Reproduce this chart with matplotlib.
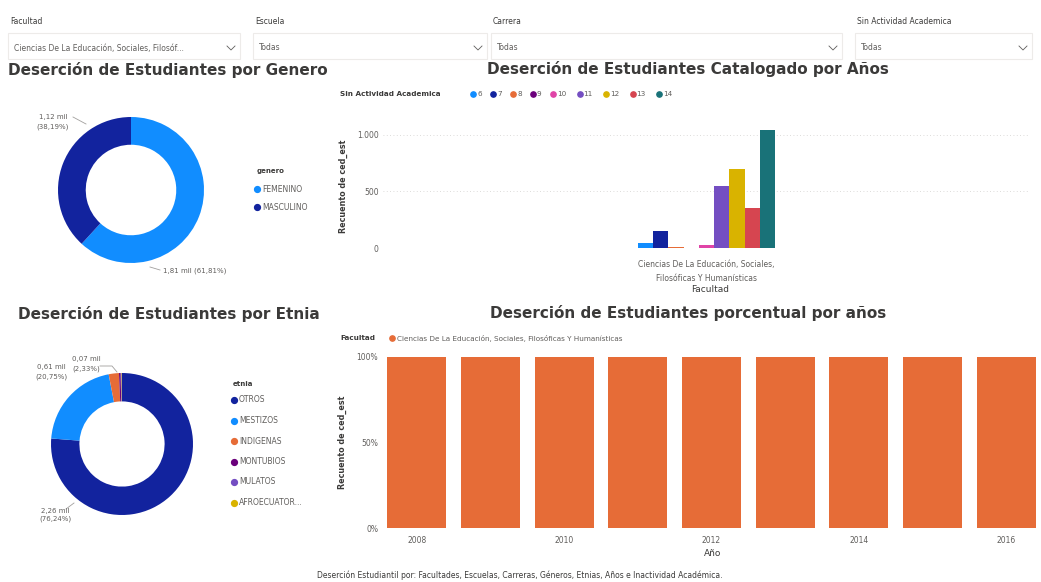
import numpy as np
import matplotlib
matplotlib.use("Agg")
import matplotlib.pyplot as plt
from matplotlib.patches import Rectangle
from matplotlib.lines import Line2D

# datos del tablero
generos = ["FEMENINO", "MASCULINO"]
genero_counts = [1813, 1120]
genero_colors = ["#118DFF", "#12239E"]

etnias = ["OTROS", "MESTIZOS", "INDIGENAS", "MONTUBIOS", "MULATOS", "AFROECUATORIANOS"]
etnia_counts = [2256, 614, 69, 11, 6, 3]
etnia_colors = ["#12239E", "#118DFF", "#E66C37", "#6B007B", "#744EC2", "#D9B300"]

sin_actividad = ["6", "7", "8", "9", "10", "11", "12", "13", "14"]
sin_actividad_counts = [40, 150, 5, 3, 30, 548, 695, 355, 1045]
sin_actividad_colors = ["#118DFF", "#12239E", "#E66C37", "#6B007B", "#E044A7",
                        "#744EC2", "#D9B300", "#D64550", "#197278"]
facultad = "Ciencias De La Educación, Sociales,\nFilosóficas Y Humanísticas"

anios = [2008, 2009, 2010, 2011, 2012, 2013, 2014, 2015, 2016]
porcentaje_anio = [100, 100, 100, 100, 100, 100, 100, 100, 100]
anio_ticks = [2008, 2010, 2012, 2014, 2016]

W, H = 1041, 582
DARK = "#3B3A39"
GREY = "#605E5C"


def fx(x):
    return x / W


def fy(y):
    return 1 - y / H


def mil(v):
    return f"{v / 1000:.2f} mil".replace(".", ",")


def pct(v, total):
    return f"({100 * v / total:.2f}%)".replace(".", ",")


def fig_line(xs, ys, color="#A19F9D", lw=0.6):
    fig.add_artist(Line2D([fx(x) for x in xs], [fy(y) for y in ys],
                          transform=fig.transFigure, color=color, lw=lw))


def legend_dot(x, y, color, ms=4.2):
    fig.add_artist(Line2D([fx(x)], [fy(y)], marker="o", ms=ms, color=color,
                          lw=0, transform=fig.transFigure))


fig = plt.figure(figsize=(W / 100, H / 100), dpi=100)
fig.patch.set_facecolor("white")

# segmentadores de la parte superior
slicers = [("Facultad", "Ciencias De La Educación, Sociales, Filosóf...", 8, 240),
           ("Escuela", "Todas", 253, 487),
           ("Carrera", "Todas", 491, 842),
           ("Sin Actividad Academica", "Todas", 855, 1032)]
for label, value, x0, x1 in slicers:
    fig.text(fx(x0 + 2), fy(21), label, fontsize=5.5, color=DARK, va="center")
    fig.add_artist(Rectangle((fx(x0), fy(59)), fx(x1) - fx(x0), fy(33) - fy(59),
                             transform=fig.transFigure, fill=False,
                             edgecolor="#EDEBE9", lw=0.8))
    fig.text(fx(x0 + 6), fy(48), value, fontsize=5.5, color=GREY, va="center")
    fig_line([x1 - 13, x1 - 9, x1 - 5], [46, 50, 46], color=GREY, lw=0.6)

# titulos
titles = [("Deserción de Estudiantes por Genero", 168, 70),
          ("Deserción de Estudiantes Catalogado por Años", 688, 69),
          ("Deserción de Estudiantes por Etnia", 169, 314),
          ("Deserción de Estudiantes porcentual por años", 688, 313)]
for t, x, y in titles:
    fig.text(fx(x), fy(y), t, fontsize=11, fontweight="bold", color=DARK,
             ha="center", va="center")

# dona por genero
ax1 = fig.add_axes([fx(131 - 73), fy(190 + 73), 146 / W, 146 / H])
ax1.pie(genero_counts, colors=genero_colors, startangle=90, counterclock=False,
        wedgeprops=dict(width=0.38, linewidth=0))
ax1.set_xlim(-1, 1)
ax1.set_ylim(-1, 1)
g_total = sum(genero_counts)
fig.text(fx(53), fy(122), f"{mil(genero_counts[1])}\n{pct(genero_counts[1], g_total)}",
         fontsize=5, color=GREY, ha="center", va="center", linespacing=1.5)
fig_line([73, 86], [117, 124])
fig.text(fx(163), fy(271), f"{mil(genero_counts[0])} {pct(genero_counts[0], g_total)}",
         fontsize=5, color=GREY, ha="left", va="center")
fig_line([150, 160], [267, 270])

fig.text(fx(257), fy(171), "genero", fontsize=5, color=DARK, fontweight="bold", va="center")
for i, (name, c) in enumerate(zip(generos, genero_colors)):
    y = 189 + i * 18
    legend_dot(257, y, c)
    fig.text(fx(262), fy(y), name, fontsize=5.5, color=GREY, va="center")

# dona por etnia
ax4 = fig.add_axes([fx(122 - 71), fy(444 + 71), 142 / W, 142 / H])
ax4.pie(etnia_counts, colors=etnia_colors, startangle=90, counterclock=False,
        wedgeprops=dict(width=0.4, linewidth=0))
ax4.set_xlim(-1, 1)
ax4.set_ylim(-1, 1)
e_total = sum(etnia_counts)
fig.text(fx(55), fy(515), f"{mil(etnia_counts[0])}\n{pct(etnia_counts[0], e_total)}",
         fontsize=5, color=GREY, ha="center", va="center", linespacing=1.5)
fig_line([66, 74], [509, 503])
fig.text(fx(51), fy(372), f"{mil(etnia_counts[1])}\n{pct(etnia_counts[1], e_total)}",
         fontsize=5, color=GREY, ha="center", va="center", linespacing=1.5)
fig.text(fx(86), fy(364), f"{mil(etnia_counts[2])}\n{pct(etnia_counts[2], e_total)}",
         fontsize=5, color=GREY, ha="center", va="center", linespacing=1.5)
fig_line([100, 112, 117], [366, 366, 372])

fig.text(fx(233), fy(384), "etnia", fontsize=5, color=DARK, fontweight="bold", va="center")
for i, (name, c) in enumerate(zip(etnias, etnia_colors)):
    y = 400 + i * 20.5
    legend_dot(234, y, c)
    shown = name if len(name) <= 12 else name[:11] + "..."
    fig.text(fx(239), fy(y), shown, fontsize=5.5, color=GREY, va="center")

# barras agrupadas por inactividad
ax2 = fig.add_axes([fx(383), fy(248), fx(1030) - fx(383), fy(125) - fy(248)])
bw = 0.1
offsets = (np.arange(len(sin_actividad)) - (len(sin_actividad) - 1) / 2) * bw
ax2.bar(offsets, sin_actividad_counts, width=bw, color=sin_actividad_colors)
ax2.set_xlim(-2.125, 2.125)
ax2.set_ylim(0, 1088)
ax2.set_yticks([0, 500, 1000])
ax2.set_yticklabels(["0", "500", "1.000"])
ax2.set_xticks([0])
ax2.set_xticklabels([facultad], linespacing=1.6)
ax2.tick_params(length=0, labelsize=5.5, labelcolor=GREY)
ax2.tick_params(axis="x", pad=9)
ax2.tick_params(axis="y", pad=3)
ax2.grid(axis="y", color="#D2D0CE", lw=0.6, linestyle=(0, (1, 3)))
ax2.set_axisbelow(True)
for s in ax2.spines.values():
    s.set_visible(False)
ax2.set_ylabel("Recuento de ced_est", fontsize=5.8, color=DARK, fontweight="bold")
ax2.yaxis.set_label_coords(-0.054, 0.5)
fig.text(fx(710), fy(290), "Facultad", fontsize=6.5, color=DARK, ha="center", va="center")

fig.text(fx(340), fy(94), "Sin Actividad Academica", fontsize=5.2, color=DARK,
         fontweight="bold", va="center")
x = 473
for name, c in zip(sin_actividad, sin_actividad_colors):
    legend_dot(x, 94, c, ms=3.8)
    fig.text(fx(x + 4), fy(94), name, fontsize=5.2, color=GREY, va="center")
    x += 20 if len(name) == 1 else 26.5

# barras 100% por anio
ax3 = fig.add_axes([fx(385), fy(528), fx(1038) - fx(385), fy(357) - fy(528)])
ax3.bar(np.arange(len(anios)), porcentaje_anio, width=0.8, color="#E66C37")
ax3.set_xlim(-0.43, len(anios) - 1 + 0.43)
ax3.set_ylim(0, 100)
ax3.set_yticks([0, 50, 100])
ax3.set_yticklabels(["0%", "50%", "100%"])
ax3.set_xticks([anios.index(a) for a in anio_ticks])
ax3.set_xticklabels([str(a) for a in anio_ticks])
ax3.tick_params(length=0, labelsize=5.5, labelcolor=GREY)
ax3.tick_params(axis="x", pad=6)
ax3.tick_params(axis="y", pad=5)
for s in ax3.spines.values():
    s.set_visible(False)
ax3.set_ylabel("Recuento de ced_est", fontsize=5.8, color=DARK, fontweight="bold")
ax3.yaxis.set_label_coords(-0.058, 0.5)
fig.text(fx(713), fy(553), "Año", fontsize=6.5, color=DARK, ha="center", va="center")

fig.text(fx(340), fy(338), "Facultad", fontsize=5.2, color=DARK, fontweight="bold", va="center")
legend_dot(392, 338, "#E66C37", ms=3.8)
fig.text(fx(397), fy(338), facultad.replace("\n", " "), fontsize=5.2, color=GREY, va="center")

# pie de pagina
fig.text(fx(520), fy(575),
         "Deserción Estudiantil por: Facultades, Escuelas, Carreras, Géneros, Etnias, "
         "Años e Inactividad Académica.",
         fontsize=5.5, color=DARK, ha="center", va="center")

fig.savefig("out.png", dpi=100)
